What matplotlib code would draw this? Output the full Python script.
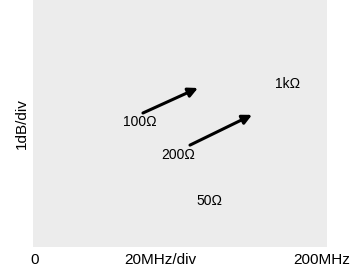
import matplotlib
matplotlib.use('Agg')
import matplotlib.pyplot as plt

plt.rcParams['font.family'] = ['Liberation Sans', 'DejaVu Sans']

# x axis: 0..200 MHz (10 div of 20 MHz), y axis: 8 div of 1 dB
xLim = (0, 200)
yLim = (0, 8)
xTickPos = [1.4, 86.4, 196.6]
xTickLab = ['0', '20MHz/div', '200MHz']

# load labels (text position) in MHz / dB
loadNames = ['100\u03a9', '200\u03a9', '1k\u03a9', '50\u03a9']
loadX = [72.8, 98.6, 173.5, 119.7]
loadY = [4.05, 2.98, 5.28, 1.49]

# arrows pointing at curves: tail -> head
arrTail = [(74.8, 4.34), (106.8, 3.30)]
arrHead = [(112.2, 5.15), (149.0, 4.28)]

fig = plt.figure(figsize=(3.57, 2.66), dpi=100)
ax = fig.add_axes([33/357, 19/266, 294/357, 247/266])
ax.set_facecolor('#ececec')
ax.set_xlim(*xLim)
ax.set_ylim(*yLim)
for s in ax.spines.values():
    s.set_visible(False)

ax.set_xticks(xTickPos)
ax.set_xticklabels(xTickLab, fontsize=11)
ax.tick_params(axis='x', length=0, pad=4.5)
ax.set_yticks([])
ax.set_ylabel('1dB/div', fontsize=11, labelpad=3)

for name, x, y in zip(loadNames, loadX, loadY):
    ax.text(x, y, name, fontsize=10, ha='center', va='center', color='black')

for t, h in zip(arrTail, arrHead):
    ax.annotate('', xy=h, xytext=t,
                arrowprops=dict(arrowstyle='-|>', lw=2.2, color='black',
                                mutation_scale=14, shrinkA=0, shrinkB=0))

plt.savefig('out.png', dpi=100)
